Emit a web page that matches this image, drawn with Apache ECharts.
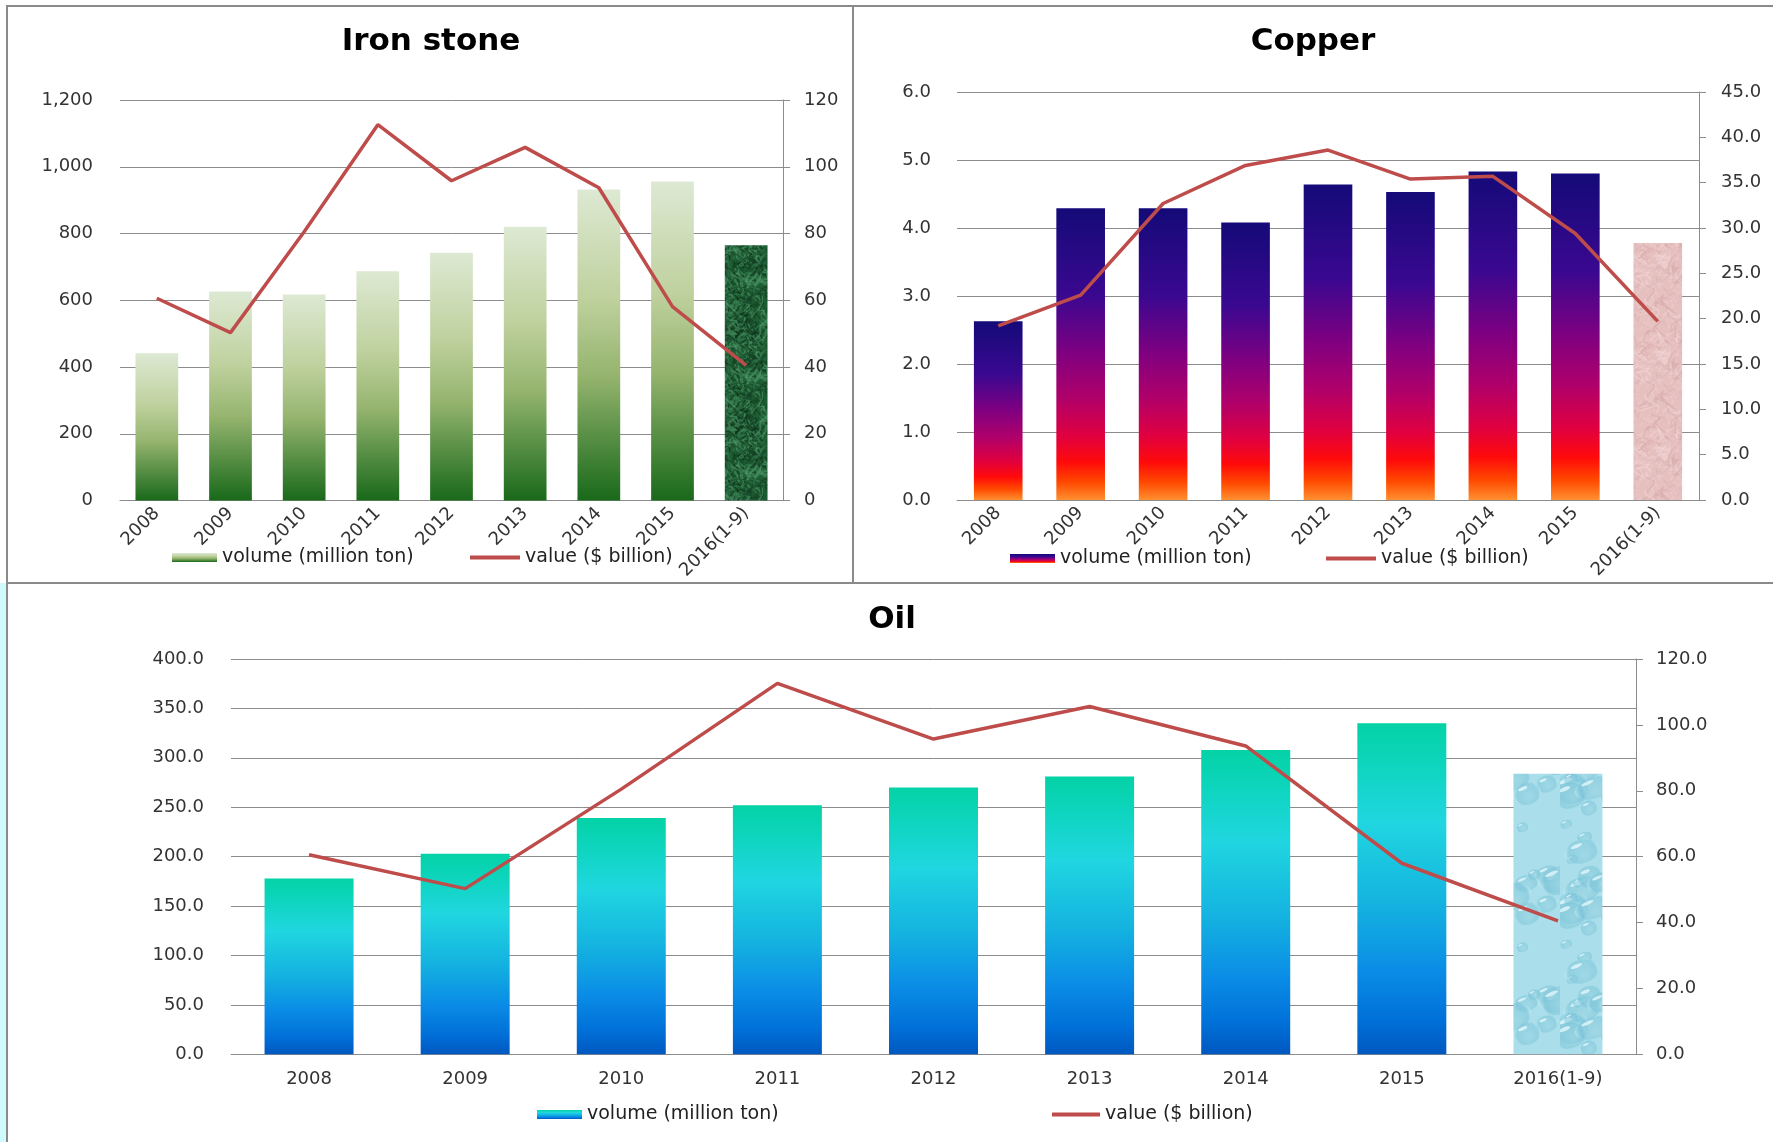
<!DOCTYPE html>
<html><head><meta charset="utf-8">
<script src="https://cdn.jsdelivr.net/npm/echarts@6/dist/echarts.min.js"></script>
<style>html,body{margin:0;padding:0;background:#fff}#c{width:1773px;height:1142px}</style>
</head><body><div id="c"></div>
<script>
// ---------- data ----------
const categories = ['2008','2009','2010','2011','2012','2013','2014','2015','2016(1-9)'];
const ironVolume   = [441, 626, 617, 687, 742, 820, 932, 956, 765];
const ironValue    = [60.6, 50.3, 80.5, 112.6, 95.8, 105.8, 93.7, 58.1, 40.5];
const copperVolume = [2.63, 4.29, 4.29, 4.08, 4.64, 4.53, 4.83, 4.80, 3.78];
const copperValue  = [19.2, 22.6, 32.7, 36.9, 38.6, 35.4, 35.7, 29.4, 19.7];
const oilVolume    = [178, 203, 239, 252, 270, 281, 308, 335, 284];
const oilValue     = [60.6, 50.3, 80.5, 112.6, 95.7, 105.6, 93.6, 58.0, 40.5];
const titles = ['Iron stone', 'Copper', 'Oil'];
const legendText = {
  ironVol: 'volume (million ton)', ironVal: 'value ($ billion)',
  cuVol: 'volume (million ton)', cuVal: 'value ($ billion)',
  oilVol: 'volume (million ton)', oilVal: 'value ($ billion)'
};
// axis ranges [min, max, interval]
const ironLeftAxis = [0, 1200, 200], ironRightAxis = [0, 120, 20];
const cuLeftAxis = [0, 6, 1], cuRightAxis = [0, 45, 5];
const oilLeftAxis = [0, 400, 50], oilRightAxis = [0, 120, 20];

// ---------- textures (styling only) ----------
function rng(seed){ let s = seed >>> 0; return () => { s = (Math.imul(s, 1664525) + 1013904223) >>> 0; return s / 4294967296; }; }
function marble(base, light, dark, seed, size, n){
  const c = document.createElement('canvas'); c.width = size; c.height = size;
  const g = c.getContext('2d'); g.fillStyle = base; g.fillRect(0,0,size,size);
  const r = rng(seed);
  for (let i=0;i<n;i++){
    g.strokeStyle = r() < 0.55 ? light : dark;
    g.globalAlpha = 0.2 + 0.4*r();
    g.lineWidth = 0.6 + 1.6*r();
    g.beginPath();
    let x = r()*size, y = r()*size; g.moveTo(x,y);
    for (let k=0;k<4;k++){ x += (r()-0.5)*16; y += (r()-0.5)*16; g.lineTo(x,y); }
    g.stroke();
  }
  return c;
}
function drops(seed, size){
  const c = document.createElement('canvas'); c.width = size; c.height = size;
  const g = c.getContext('2d'); g.fillStyle = '#aadeea'; g.fillRect(0,0,size,size);
  const r = rng(seed);
  for (let i=0;i<26;i++){
    const x = r()*size, y = r()*size, rx = 6 + r()*14, ry = rx*(0.55+0.3*r());
    const gr = g.createRadialGradient(x + rx*0.2, y + ry*0.3, 1, x, y, rx);
    gr.addColorStop(0, 'rgba(150,210,225,0.55)');
    gr.addColorStop(0.75, 'rgba(120,195,215,0.5)');
    gr.addColorStop(1, 'rgba(200,238,245,0.6)');
    g.fillStyle = gr; g.beginPath(); g.ellipse(x, y, rx, ry, -0.3, 0, Math.PI*2); g.fill();
    g.fillStyle = 'rgba(240,252,255,0.7)'; g.beginPath();
    g.ellipse(x - rx*0.3, y - ry*0.45, rx*0.35, ry*0.15, -0.4, 0, Math.PI*2); g.fill();
  }
  return c;
}
const ironTex = marble('#1d5b33', '#4f9a6a', '#0b2f18', 7, 96, 500);
const cuTex = marble('#e6bfbf', '#f2d6d6', '#d6a9a9', 11, 96, 220);
const oilTex = drops(5, 120);

const F = '"DejaVu Sans", "Noto Sans", sans-serif';
const G = echarts.graphic.LinearGradient;
const ironGrad = new G(0,0,0,1,[
  {offset:0,color:'#dde9d3'},{offset:0.35,color:'#bfd19e'},{offset:0.6,color:'#95b46e'},
  {offset:0.8,color:'#568e44'},{offset:1,color:'#19691a'}]);
const cuGrad = new G(0,0,0,1,[
  {offset:0,color:'#140a78'},{offset:0.3,color:'#3a0890'},{offset:0.5,color:'#800080'},
  {offset:0.65,color:'#b0006a'},{offset:0.78,color:'#e00040'},{offset:0.87,color:'#ff0a0a'},
  {offset:0.94,color:'#ff4a00'},{offset:1,color:'#ff9030'}]);
const oilGrad = new G(0,0,0,1,[
  {offset:0,color:'#04d2a6'},{offset:0.12,color:'#0dd5bd'},{offset:0.3,color:'#20d6e0'},
  {offset:0.55,color:'#14b2e0'},{offset:0.75,color:'#0a8ce6'},{offset:0.9,color:'#0070d8'},
  {offset:1,color:'#0058c0'}]);

const GRID_C = '#8c8c8c', TXT = '#333', LINE_C = '#be4c4a';

function xAx(i, rotate, margin){
  return { type:'category', gridIndex:i, data:categories,
    axisLine:{show:true, lineStyle:{color:GRID_C, width:1}}, axisTick:{show:false},
    axisLabel:{interval:0, rotate:rotate, margin:margin, fontFamily:F, fontSize:18, color:TXT} };
}
function yLeft(i, r, fmt, margin){
  return { type:'value', gridIndex:i, min:r[0], max:r[1], interval:r[2], position:'left',
    axisLine:{show:false}, axisTick:{show:false},
    splitLine:{show:true, lineStyle:{color:GRID_C, width:1}},
    axisLabel:{formatter:fmt, margin:margin, fontFamily:F, fontSize:18, color:TXT} };
}
function yRight(i, r, fmt, margin){
  return { type:'value', gridIndex:i, min:r[0], max:r[1], interval:r[2], position:'right',
    axisLine:{show:true, lineStyle:{color:GRID_C, width:1}},
    axisTick:{show:true, length:7, lineStyle:{color:GRID_C}},
    splitLine:{show:false},
    axisLabel:{formatter:fmt, margin:margin, fontFamily:F, fontSize:18, color:TXT} };
}
const comma = v => v.toLocaleString('en-US');
const one = v => v.toFixed(1);
const int = v => String(v);

function legend(name, left, top, w, h){
  return { data:[{name:name, icon:'rect'}], left:left, top:top, padding:0, itemGap:0,
    itemWidth:w, itemHeight:h, selectedMode:false, formatter:n => legendText[n],
    textStyle:{fontFamily:F, fontSize:19, color:'#222'} };
}
function barSeries(name, xi, yi, vals, grad, tex, gap){
  return { name:name, type:'bar', xAxisIndex:xi, yAxisIndex:yi, barCategoryGap:gap,
    itemStyle:{color:grad},
    data: vals.map((v,i) => i === vals.length-1 ? {value:v, itemStyle:{color:{image:tex, repeat:'repeat'}}} : v) };
}
function lineSeries(name, xi, yi, vals){
  return { name:name, type:'line', xAxisIndex:xi, yAxisIndex:yi, data:vals, symbol:'none',
    z:5, lineStyle:{color:LINE_C, width:3.5}, itemStyle:{color:LINE_C} };
}

const chart = echarts.init(document.getElementById('c'), null, {renderer:'canvas'});
chart.setOption({
  animation:false,
  backgroundColor:'#ffffff',
  grid:[
    {left:120, top:100, width:663, height:400.5, outerBoundsMode:'none'},
    {left:957, top:92, width:742, height:408, outerBoundsMode:'none'},
    {left:231, top:659, width:1405, height:395.3, outerBoundsMode:'none'}
  ],
  xAxis:[ xAx(0, 45, 10), xAx(1, 45, 10), xAx(2, 0, 16) ],
  yAxis:[
    yLeft(0, ironLeftAxis, comma, 27), yRight(0, ironRightAxis, int, 21),
    yLeft(1, cuLeftAxis, one, 26), yRight(1, cuRightAxis, one, 22),
    yLeft(2, oilLeftAxis, one, 27), yRight(2, oilRightAxis, one, 20)
  ],
  legend:[
    legend('ironVol', 172, 548, 45, 9), legend('ironVal', 470, 548, 50, 4),
    legend('cuVol', 1010, 549, 45, 9), legend('cuVal', 1326, 549, 50, 4),
    legend('oilVol', 537, 1105, 45, 9), legend('oilVal', 1052, 1105, 48, 4)
  ],
  series:[
    barSeries('ironVol', 0, 0, ironVolume, ironGrad, ironTex, '42%'),
    lineSeries('ironVal', 0, 1, ironValue),
    barSeries('cuVol', 1, 2, copperVolume, cuGrad, cuTex, '41%'),
    lineSeries('cuVal', 1, 3, copperValue),
    barSeries('oilVol', 2, 4, oilVolume, oilGrad, oilTex, '43%'),
    lineSeries('oilVal', 2, 5, oilValue)
  ],
  graphic:[
    {type:'rect', shape:{x:0, y:583, width:7, height:560}, style:{fill:'#cffbfd'}, silent:true},
    {type:'rect', shape:{x:7, y:6, width:846, height:577}, style:{fill:'none', stroke:'#8a8a8a', lineWidth:2}, silent:true},
    {type:'rect', shape:{x:853, y:6, width:930, height:577}, style:{fill:'none', stroke:'#8a8a8a', lineWidth:2}, silent:true},
    {type:'rect', shape:{x:7, y:583, width:1780, height:570}, style:{fill:'none', stroke:'#8a8a8a', lineWidth:2}, silent:true},
    {type:'text', x:431, y:42, style:{text:titles[0], font:'bold 31px ' + F, fill:'#000', textAlign:'center', textVerticalAlign:'middle'}},
    {type:'text', x:1313, y:42, style:{text:titles[1], font:'bold 31px ' + F, fill:'#000', textAlign:'center', textVerticalAlign:'middle'}},
    {type:'text', x:892, y:620, style:{text:titles[2], font:'bold 31px ' + F, fill:'#000', textAlign:'center', textVerticalAlign:'middle'}}
  ]
});
</script></body></html>
